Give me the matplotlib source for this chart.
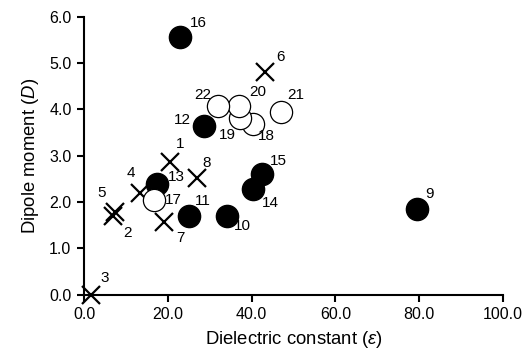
import matplotlib
matplotlib.use("Agg")
import matplotlib.pyplot as plt

plt.rcParams['font.family'] = ['Liberation Sans', 'DejaVu Sans']
plt.rcParams['mathtext.fontset'] = 'custom'
plt.rcParams['mathtext.rm'] = 'Liberation Sans'
plt.rcParams['mathtext.it'] = 'Liberation Sans:italic'

# solvent number, dielectric constant, dipole moment
cross_ids = [1, 2, 3, 4, 5, 6, 7, 8]
cross_eps = [20.6, 7.0, 1.6, 13.4, 7.4, 43.3, 19.0, 27.0]
cross_dip = [2.87, 1.70, 0.0, 2.20, 1.78, 4.80, 1.56, 2.52]

filled_ids = [9, 10, 11, 12, 13, 14, 15, 16]
filled_eps = [79.4, 34.1, 25.1, 28.7, 17.4, 40.4, 42.5, 23.0]
filled_dip = [1.85, 1.69, 1.69, 3.64, 2.39, 2.28, 2.61, 5.56]

open_ids = [17, 18, 19, 20, 21, 22]
open_eps = [16.6, 40.3, 37.3, 36.9, 47.0, 32.1]
open_dip = [2.04, 3.69, 3.81, 4.08, 3.95, 4.08]

# where each number sits relative to its marker (points)
label_off = {1: (7, 13), 2: (10, -12), 3: (10, 12), 4: (-7, 14), 5: (-10, 14),
             6: (11, 11), 7: (12, -11), 8: (7, 11), 9: (9, 11), 10: (11, -7),
             11: (10, 11), 12: (-16, 4), 13: (14, 5), 14: (12, -10), 15: (12, 9),
             16: (13, 10), 17: (14, 0), 18: (10, -9), 19: (-9, -12), 20: (14, 10),
             21: (11, 12), 22: (-11, 8)}

fig = plt.figure(figsize=(5.25, 3.51), dpi=100)
ax = fig.add_axes([0.16, 0.1604, 0.798, 0.792])

ax.plot(cross_eps, cross_dip, 'x', color='black', markersize=13, markeredgewidth=1.6,
        linestyle='none', clip_on=False, zorder=3)
ax.plot(filled_eps, filled_dip, 'o', color='black', markersize=16,
        linestyle='none', clip_on=False, zorder=3)
ax.plot(open_eps, open_dip, 'o', markerfacecolor='white', markeredgecolor='black',
        markeredgewidth=0.9, markersize=16, linestyle='none', clip_on=False, zorder=4)

for ids, xs, ys in [(cross_ids, cross_eps, cross_dip),
                    (filled_ids, filled_eps, filled_dip),
                    (open_ids, open_eps, open_dip)]:
    for i, x, y in zip(ids, xs, ys):
        ax.annotate(str(i), (x, y), xytext=label_off[i], textcoords='offset points',
                    ha='center', va='center', fontsize=11, zorder=5)

ax.set_xlim(0, 100)
ax.set_ylim(0, 6)
ax.set_xticks([0, 20, 40, 60, 80, 100])
ax.set_yticks([0, 1, 2, 3, 4, 5, 6])
ax.set_xticklabels(['0.0', '20.0', '40.0', '60.0', '80.0', '100.0'])
ax.set_yticklabels(['0.0', '1.0', '2.0', '3.0', '4.0', '5.0', '6.0'])
ax.tick_params(direction='out', length=5, width=1.5, labelsize=11.5, pad=4)
for s in ['top', 'right']:
    ax.spines[s].set_visible(False)
for s in ['left', 'bottom']:
    ax.spines[s].set_linewidth(1.5)

ax.set_xlabel(r'Dielectric constant ($\varepsilon$)', fontsize=13.3, labelpad=5)
ax.set_ylabel(r'Dipole moment ($D$)', fontsize=13.3, labelpad=6)

fig.savefig('out.png', dpi=100)
